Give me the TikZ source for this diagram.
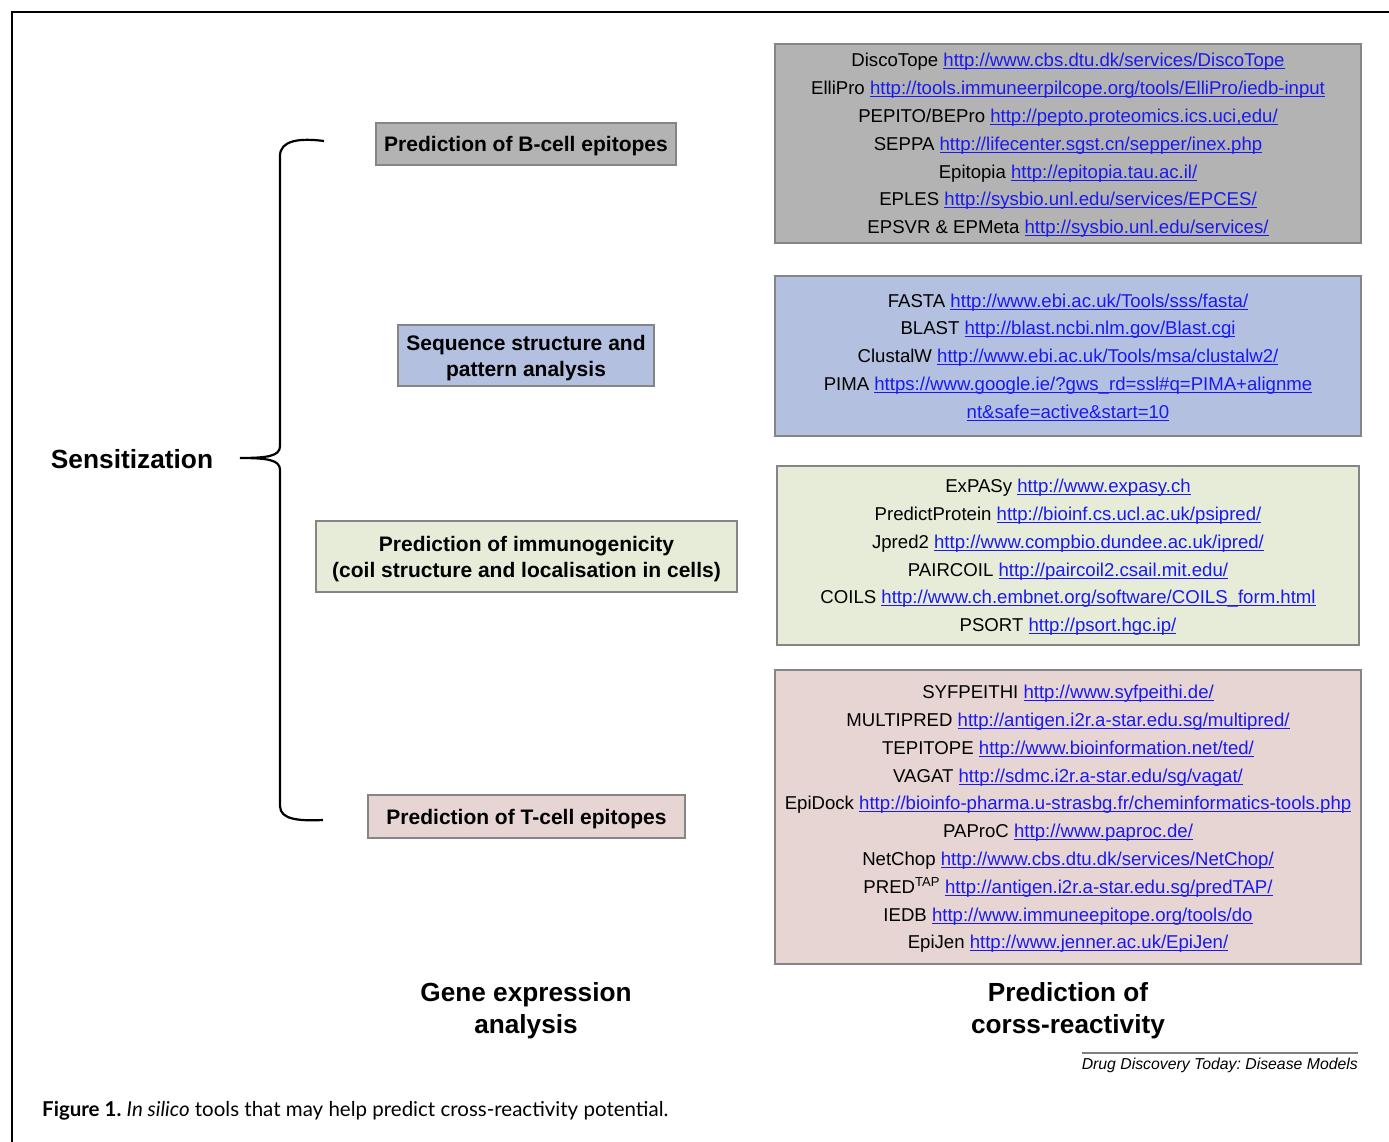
\documentclass[tikz,border=0pt]{standalone}
\usepackage{fontspec}
\setmainfont{Liberation Sans}
\newfontfamily\capfont{Lato}
\usepackage{xcolor}
\definecolor{linkblue}{HTML}{1A1AF0}
\definecolor{grayfill}{HTML}{B3B3B3}
\definecolor{bluefill}{HTML}{B4C0E0}
\definecolor{greenfill}{HTML}{E6ECD8}
\definecolor{pinkfill}{HTML}{E6D5D3}
\definecolor{edgegray}{HTML}{858585}
\newcommand\lnk[1]{\textcolor{linkblue}{\setbox0\hbox{#1}\rlap{\rule[-2.4pt]{\wd0}{0.9pt}}\box0}}
\begin{document}
\begin{tikzpicture}[x=1pt,y=-1pt,
  catbox/.style={draw=edgegray,line width=2.4pt,inner sep=0pt,align=center,text depth=0pt,
    font=\fontsize{21}{26}\selectfont\bfseries},
  toolbox/.style={draw=edgegray,line width=2.4pt,inner sep=0pt,align=center,text depth=-1pt,
    font=\fontsize{18.6}{27.8}\selectfont},
  bigtitle/.style={inner sep=0pt,align=center,text depth=0pt,font=\fontsize{26.2}{32}\selectfont\bfseries}]
\useasboundingbox (0,0) rectangle (1389,1142);
% frame
\draw[line width=2pt] (12,1142) -- (12,12) -- (1389,12);
% category boxes
\node[catbox,fill=grayfill,minimum width=300pt,minimum height=42pt] (bcell) at (526,144) {Prediction of B-cell epitopes};
\node[catbox,fill=bluefill,minimum width=256pt,minimum height=61pt] (seq) at (526,355.5) {Sequence structure and\\pattern analysis};
\node[catbox,fill=greenfill,minimum width=421pt,minimum height=71pt] (immu) at (526.5,556.5) {Prediction of immunogenicity\\(coil structure and localisation in cells)};
\node[catbox,fill=pinkfill,minimum width=317pt,minimum height=43pt] (tcell) at (526.5,816.5) {Prediction of T-cell epitopes};
% sensitization and brace
\node[inner sep=0pt,text depth=0pt,font=\fontsize{26.3}{30}\selectfont\bfseries] (sens) at (132,459) {Sensitization};
\coordinate (btop) at (324,141);
\coordinate (bbot) at (323,820);
\coordinate (btip) at (240,458);
\draw[line width=2.2pt] (btop) .. controls (300,138) and (280,140) .. (280,156) -- (280,446)
  .. controls (280,456) and (268,458) .. (btip)
  .. controls (268,458) and (280,460) .. (280,470) -- (280,806)
  .. controls (280,820) and (300,821) .. (bbot);
% tool boxes
\node[toolbox,fill=grayfill,minimum width=586pt,minimum height=199pt] (tools1) at (1068,143.5) {%
DiscoTope \lnk{http://www.cbs.dtu.dk/services/DiscoTope}\\
ElliPro \lnk{http://tools.immuneerpilcope.org/tools/ElliPro/iedb-input}\\
PEPITO/BEPro \lnk{http://pepto.proteomics.ics.uci,edu/}\\
SEPPA \lnk{http://lifecenter.sgst.cn/sepper/inex.php}\\
Epitopia \lnk{http://epitopia.tau.ac.il/}\\
EPLES \lnk{http://sysbio.unl.edu/services/EPCES/}\\
EPSVR \& EPMeta \lnk{http://sysbio.unl.edu/services/}};
\node[toolbox,fill=bluefill,minimum width=586pt,minimum height=160pt] (tools2) at (1068,356) {%
FASTA \lnk{http://www.ebi.ac.uk/Tools/sss/fasta/}\\
BLAST \lnk{http://blast.ncbi.nlm.gov/Blast.cgi}\\
ClustalW \lnk{http://www.ebi.ac.uk/Tools/msa/clustalw2/}\\
PIMA \lnk{https://www.google.ie/?gws\_rd=ssl\#q=PIMA+alignme}\\
\lnk{nt\&safe=active\&start=10}};
\node[toolbox,fill=greenfill,minimum width=582pt,minimum height=179pt] (tools3) at (1068,555.5) {%
ExPASy \lnk{http://www.expasy.ch}\\
PredictProtein \lnk{http://bioinf.cs.ucl.ac.uk/psipred/}\\
Jpred2 \lnk{http://www.compbio.dundee.ac.uk/ipred/}\\
PAIRCOIL \lnk{http://paircoil2.csail.mit.edu/}\\
COILS \lnk{http://www.ch.embnet.org/software/COILS\_form.html}\\
PSORT \lnk{http://psort.hgc.ip/}};
\node[toolbox,fill=pinkfill,minimum width=586pt,minimum height=294pt] (tools4) at (1068,817) {%
SYFPEITHI \lnk{http://www.syfpeithi.de/}\\
MULTIPRED \lnk{http://antigen.i2r.a-star.edu.sg/multipred/}\\
TEPITOPE \lnk{http://www.bioinformation.net/ted/}\\
VAGAT \lnk{http://sdmc.i2r.a-star.edu/sg/vagat/}\\
EpiDock \lnk{http://bioinfo-pharma.u-strasbg.fr/cheminformatics-tools.php}\\
PAProC \lnk{http://www.paproc.de/}\\
NetChop \lnk{http://www.cbs.dtu.dk/services/NetChop/}\\
PRED\textsuperscript{TAP} \lnk{http://antigen.i2r.a-star.edu.sg/predTAP/}\\
IEDB \lnk{http://www.immuneepitope.org/tools/do}\\
EpiJen \lnk{http://www.jenner.ac.uk/EpiJen/}};
% column titles
\node[bigtitle] (gene) at (526,1008) {Gene expression\\analysis};
\node[bigtitle] (cross) at (1068,1008) {Prediction of\\corss-reactivity};
% source line
\coordinate (srcL) at (1082,1053);
\coordinate (srcR) at (1358,1053);
\draw[line width=1.2pt,color=gray] (srcL) -- (srcR);
\node[inner sep=0pt,anchor=east,text depth=0pt,font=\fontsize{15.8}{18}\selectfont\itshape\frenchspacing] (src) at (1358,1064) {Drug Discovery Today: Disease Models};
% caption
\node[inner sep=0pt,anchor=west,text depth=0pt,font=\capfont\fontsize{20.5}{23}\selectfont] (cap) at (42,1109) {\textbf{Figure 1.}\ \textit{In silico} tools that may help predict cross-reactivity potential.};
\end{tikzpicture}
\end{document}
